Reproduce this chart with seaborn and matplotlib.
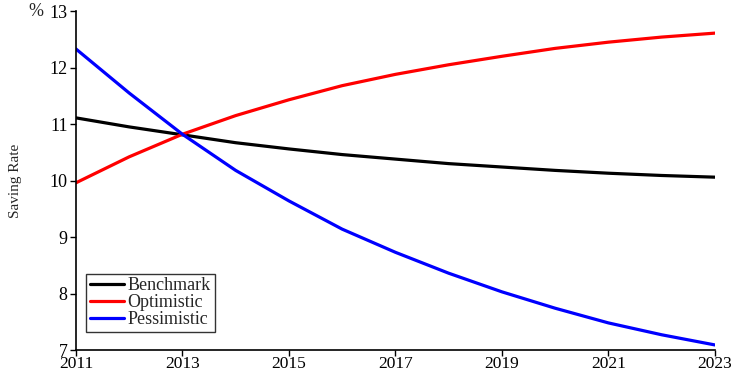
import matplotlib
matplotlib.use("Agg")
import matplotlib.pyplot as plt
import seaborn as sns
import pandas as pd

years = list(range(2011, 2024))
benchmark = [11.11, 10.95, 10.81, 10.67, 10.56, 10.46, 10.38, 10.30, 10.24, 10.18, 10.13, 10.09, 10.06]
optimistic = [9.96, 10.42, 10.82, 11.15, 11.43, 11.68, 11.88, 12.05, 12.20, 12.34, 12.45, 12.54, 12.61]
pessimistic = [12.33, 11.55, 10.82, 10.18, 9.64, 9.14, 8.73, 8.36, 8.03, 7.74, 7.48, 7.27, 7.09]
series_names = ["Benchmark", "Optimistic", "Pessimistic"]
colors = ["#000000", "#ff0000", "#0000ff"]
xticks = [2011, 2013, 2015, 2017, 2019, 2021, 2023]
yticks = [7, 8, 9, 10, 11, 12, 13]

df = pd.DataFrame({
    "Year": years * 3,
    "Rate": benchmark + optimistic + pessimistic,
    "Scenario": [s for s in series_names for _ in years],
})

sns.set_style("ticks")
plt.rcParams['font.family'] = ['Liberation Serif', 'DejaVu Serif']

fig = plt.figure(figsize=(7.37, 3.7), dpi=100)
ax = fig.add_axes([0.103, 0.054, 0.867, 0.916])
sns.lineplot(data=df, x="Year", y="Rate", hue="Scenario", palette=colors,
             hue_order=series_names, linewidth=2.3, ax=ax)

ax.set_xlim(2011, 2023)
ax.set_ylim(7, 13)
ax.set_xticks(xticks)
ax.set_xticklabels([str(x) for x in xticks])
ax.set_yticks(yticks)
ax.set_yticklabels([str(y) for y in yticks])
ax.tick_params(axis='both', labelsize=13, direction='out', length=4, width=1,
               color='black', labelcolor='black')
ax.tick_params(axis='x', pad=0, labelsize=12.5)
ax.tick_params(axis='y', pad=2)
sns.despine(ax=ax)
for s in ['left', 'bottom']:
    ax.spines[s].set_color('black')
    ax.spines[s].set_linewidth(1.2)
ax.set_xlabel("")
ax.set_ylabel("Saving Rate", fontsize=11, labelpad=0)
ax.yaxis.set_label_coords(-0.084, 0.5)
ax.text(-0.051, 1.0, "%", transform=ax.transAxes, fontsize=13, ha='right', va='center')

leg = ax.legend(loc='lower left', bbox_to_anchor=(0.016, 0.053), fontsize=13,
                frameon=True, fancybox=False, edgecolor='black', handlelength=1.9,
                borderpad=0.2, labelspacing=0.0, handletextpad=0.2, borderaxespad=0)
leg.get_frame().set_linewidth(1.0)
for line in leg.get_lines():
    line.set_linewidth(2.3)

fig.savefig("out.png", dpi=100)
